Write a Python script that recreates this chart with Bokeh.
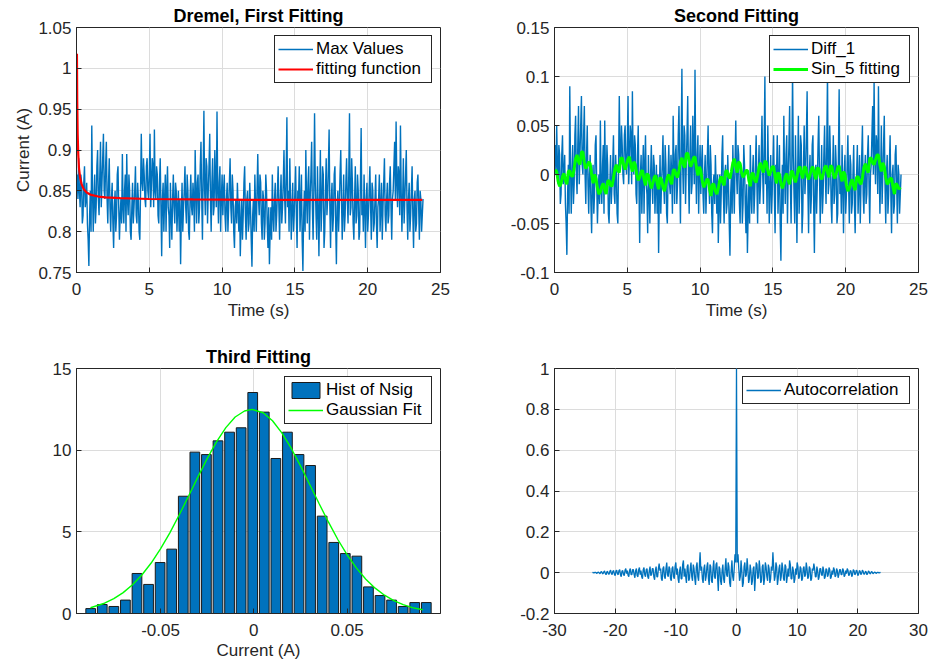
import numpy as np
from bokeh.plotting import figure
from bokeh.layouts import gridplot
from bokeh.models import FixedTicker, Range1d
from bokeh.embed import file_html
from bokeh.resources import INLINE

FONT = "Liberation Sans"
AX = "#262626"
BLUE = "#0072BD"
GRID = "#DCDCDC"

# ---------------- data ----------------
# sampled every 0.05 s starting at 0.05 s
max_values = [
    0.87, 0.84, 0.89, 0.85, 0.83, 0.87, 0.86, 0.81, 0.82, 0.86, 0.88, 0.83, 0.84, 0.86, 0.81, 0.79, 0.758, 0.82, 0.85, 0.80,
    0.93, 0.85, 0.80, 0.84, 0.87, 0.81, 0.83, 0.88, 0.90, 0.84, 0.82, 0.87, 0.91, 0.83, 0.86, 0.89, 0.92, 0.85, 0.84, 0.88,
    0.91, 0.84, 0.81, 0.86, 0.89, 0.83, 0.80, 0.84, 0.86, 0.81, 0.78, 0.83, 0.85, 0.80, 0.82, 0.87, 0.88, 0.83, 0.79, 0.82,
    0.84, 0.81, 0.895, 0.83, 0.81, 0.85, 0.87, 0.80, 0.895, 0.84, 0.82, 0.87, 0.85, 0.80, 0.79, 0.83, 0.86, 0.81, 0.83, 0.85,
    0.88, 0.82, 0.81, 0.86, 0.84, 0.80, 0.79, 0.85, 0.92, 0.86, 0.85, 0.89, 0.87, 0.84, 0.83, 0.88, 0.89, 0.85, 0.84, 0.87,
    0.92, 0.83, 0.86, 0.89, 0.88, 0.83, 0.925, 0.85, 0.84, 0.88, 0.87, 0.82, 0.81, 0.86, 0.89, 0.83, 0.77, 0.84, 0.86, 0.80,
    0.84, 0.87, 0.80, 0.85, 0.88, 0.83, 0.82, 0.78, 0.86, 0.82, 0.79, 0.84, 0.87, 0.83, 0.81, 0.86, 0.85, 0.80, 0.83, 0.85,
    0.80, 0.84, 0.76, 0.82, 0.86, 0.80, 0.83, 0.85, 0.88, 0.83, 0.81, 0.87, 0.85, 0.80, 0.79, 0.84, 0.87, 0.83, 0.82, 0.86,
    0.84, 0.80, 0.90, 0.85, 0.81, 0.86, 0.87, 0.81, 0.83, 0.88, 0.91, 0.84, 0.79, 0.87, 0.948, 0.85, 0.82, 0.89, 0.88, 0.81,
    0.85, 0.88, 0.92, 0.84, 0.80, 0.86, 0.89, 0.82, 0.83, 0.90, 0.86, 0.83, 0.947, 0.85, 0.81, 0.86, 0.88, 0.80, 0.84, 0.87,
    0.82, 0.85, 0.87, 0.82, 0.80, 0.84, 0.86, 0.80, 0.83, 0.86, 0.89, 0.83, 0.81, 0.87, 0.85, 0.80, 0.78, 0.83, 0.84, 0.81,
    0.86, 0.83, 0.80, 0.84, 0.77, 0.81, 0.84, 0.79, 0.82, 0.86, 0.88, 0.82, 0.79, 0.84, 0.85, 0.80, 0.81, 0.86, 0.83, 0.79,
    0.757, 0.82, 0.84, 0.80, 0.87, 0.83, 0.80, 0.85, 0.895, 0.84, 0.82, 0.87, 0.86, 0.81, 0.79, 0.85, 0.84, 0.79, 0.81, 0.87,
    0.85, 0.81, 0.78, 0.83, 0.76, 0.80, 0.83, 0.79, 0.87, 0.82, 0.80, 0.84, 0.86, 0.80, 0.82, 0.85, 0.88, 0.83, 0.79, 0.84,
    0.87, 0.81, 0.83, 0.86, 0.90, 0.84, 0.81, 0.87, 0.94, 0.83, 0.85, 0.80, 0.89, 0.84, 0.79, 0.83, 0.86, 0.80, 0.82, 0.85,
    0.88, 0.82, 0.78, 0.85, 0.84, 0.88, 0.80, 0.83, 0.87, 0.79, 0.752, 0.82, 0.85, 0.80, 0.90, 0.84, 0.81, 0.86, 0.88, 0.79,
    0.84, 0.87, 0.91, 0.83, 0.79, 0.85, 0.945, 0.86, 0.82, 0.79, 0.88, 0.83, 0.77, 0.84, 0.90, 0.80, 0.83, 0.88, 0.87, 0.78,
    0.80, 0.85, 0.89, 0.82, 0.84, 0.88, 0.925, 0.83, 0.78, 0.84, 0.86, 0.80, 0.82, 0.87, 0.88, 0.81, 0.76, 0.83, 0.85, 0.80,
    0.83, 0.87, 0.90, 0.84, 0.79, 0.83, 0.87, 0.80, 0.82, 0.86, 0.89, 0.84, 0.81, 0.87, 0.945, 0.82, 0.83, 0.89, 0.86, 0.81,
    0.79, 0.84, 0.88, 0.81, 0.82, 0.87, 0.85, 0.79, 0.80, 0.86, 0.927, 0.82, 0.84, 0.80, 0.87, 0.83, 0.78, 0.84, 0.86, 0.80,
    0.82, 0.85, 0.88, 0.83, 0.79, 0.86, 0.85, 0.80, 0.81, 0.84, 0.87, 0.81, 0.78, 0.83, 0.84, 0.87, 0.80, 0.83, 0.86, 0.79,
    0.83, 0.86, 0.89, 0.82, 0.80, 0.84, 0.86, 0.81, 0.82, 0.86, 0.88, 0.83, 0.79, 0.84, 0.85, 0.88, 0.91, 0.84, 0.935, 0.86,
    0.83, 0.88, 0.87, 0.82, 0.93, 0.85, 0.80, 0.84, 0.89, 0.81, 0.84, 0.87, 0.90, 0.83, 0.79, 0.84, 0.86, 0.80, 0.82, 0.85,
    0.88, 0.82, 0.78, 0.84, 0.85, 0.80, 0.81, 0.86, 0.87, 0.83, 0.79, 0.85, 0.84, 0.80, 0.82, 0.84,
]

fit_time = [0.03, 0.05, 0.08, 0.12, 0.17, 0.25, 0.35, 0.5, 0.7, 1.0, 1.5,
            2.0, 3.0, 5.0, 8.0, 12.0, 16.0, 20.0, 23.75]
fit_values = [1.018, 0.96, 0.92, 0.895, 0.878, 0.866, 0.858, 0.852, 0.848,
              0.845, 0.843, 0.842, 0.841, 0.840, 0.8395, 0.839, 0.839,
              0.839, 0.839]

# sampled every 0.05 s starting at 0.05 s
diff_1 = [
    0.03, 0.0, 0.05, 0.01, -0.01, 0.03, 0.02, -0.03, -0.02, 0.02, 0.04, -0.01, 0.0, 0.02, -0.03, -0.05, -0.082, -0.02, 0.01, -0.04,
    0.09, 0.01, -0.04, 0.0, 0.03, -0.03, -0.01, 0.04, 0.06, 0.0, -0.02, 0.03, 0.07, -0.01, 0.02, 0.05, 0.08, 0.01, 0.0, 0.04,
    0.07, 0.0, -0.03, 0.02, 0.05, -0.01, -0.04, 0.0, 0.02, -0.03, -0.06, -0.01, 0.01, -0.04, -0.02, 0.03, 0.04, -0.01, -0.05, -0.02,
    0.0, -0.03, 0.055, -0.01, -0.03, 0.01, 0.03, -0.04, 0.055, 0.0, -0.02, 0.03, 0.01, -0.04, -0.05, -0.01, 0.02, -0.03, -0.01, 0.01,
    0.04, -0.02, -0.03, 0.02, 0.0, -0.04, -0.05, 0.01, 0.08, 0.02, 0.01, 0.05, 0.03, 0.0, -0.01, 0.04, 0.05, 0.01, 0.0, 0.03,
    0.08, -0.01, 0.02, 0.05, 0.04, -0.01, 0.085, 0.01, 0.0, 0.04, 0.03, -0.02, -0.03, 0.02, 0.05, -0.01, -0.07, 0.0, 0.02, -0.04,
    0.0, 0.03, -0.04, 0.01, 0.04, -0.01, -0.02, -0.06, 0.02, -0.02, -0.05, 0.0, 0.03, -0.01, -0.03, 0.02, 0.01, -0.04, -0.01, 0.01,
    -0.04, 0.0, -0.08, -0.02, 0.02, -0.04, -0.01, 0.01, 0.04, -0.01, -0.03, 0.03, 0.01, -0.04, -0.05, 0.0, 0.03, -0.01, -0.02, 0.02,
    0.0, -0.04, 0.06, 0.01, -0.03, 0.02, 0.03, -0.03, -0.01, 0.04, 0.07, 0.0, -0.05, 0.03, 0.108, 0.01, -0.02, 0.05, 0.04, -0.03,
    0.01, 0.04, 0.08, 0.0, -0.04, 0.02, 0.05, -0.02, -0.01, 0.06, 0.02, -0.01, 0.107, 0.01, -0.03, 0.02, 0.04, -0.04, 0.0, 0.03,
    -0.02, 0.01, 0.03, -0.02, -0.04, 0.0, 0.02, -0.04, -0.01, 0.02, 0.05, -0.01, -0.03, 0.03, 0.01, -0.04, -0.06, -0.01, 0.0, -0.03,
    0.02, -0.01, -0.04, 0.0, -0.07, -0.03, 0.0, -0.05, -0.02, 0.02, 0.04, -0.02, -0.05, 0.0, 0.01, -0.04, -0.03, 0.02, -0.01, -0.05,
    -0.083, -0.02, 0.0, -0.04, 0.03, -0.01, -0.04, 0.01, 0.055, 0.0, -0.02, 0.03, 0.02, -0.03, -0.05, 0.01, 0.0, -0.05, -0.03, 0.03,
    0.01, -0.03, -0.06, -0.01, -0.08, -0.04, -0.01, -0.05, 0.03, -0.02, -0.04, 0.0, 0.02, -0.04, -0.02, 0.01, 0.04, -0.01, -0.05, 0.0,
    0.03, -0.03, -0.01, 0.02, 0.06, 0.0, -0.03, 0.03, 0.1, -0.01, 0.01, -0.04, 0.05, 0.0, -0.05, -0.01, 0.02, -0.04, -0.02, 0.01,
    0.04, -0.02, -0.06, 0.01, 0.0, 0.04, -0.04, -0.01, 0.03, -0.05, -0.088, -0.02, 0.01, -0.04, 0.06, 0.0, -0.03, 0.02, 0.04, -0.05,
    0.0, 0.03, 0.07, -0.01, -0.05, 0.01, 0.105, 0.02, -0.02, -0.05, 0.04, -0.01, -0.07, 0.0, 0.06, -0.04, -0.01, 0.04, 0.03, -0.06,
    -0.04, 0.01, 0.05, -0.02, 0.0, 0.04, 0.085, -0.01, -0.06, 0.0, 0.02, -0.04, -0.02, 0.03, 0.04, -0.03, -0.08, -0.01, 0.01, -0.04,
    -0.01, 0.03, 0.06, 0.0, -0.05, -0.01, 0.03, -0.04, -0.02, 0.02, 0.05, 0.0, -0.03, 0.03, 0.105, -0.02, -0.01, 0.05, 0.02, -0.03,
    -0.05, 0.0, 0.04, -0.03, -0.02, 0.03, 0.01, -0.05, -0.04, 0.02, 0.087, -0.02, 0.0, -0.04, 0.03, -0.01, -0.06, 0.0, 0.02, -0.04,
    -0.02, 0.01, 0.04, -0.01, -0.05, 0.02, 0.01, -0.04, -0.03, 0.0, 0.03, -0.03, -0.06, -0.01, 0.0, 0.03, -0.04, -0.01, 0.02, -0.05,
    -0.01, 0.02, 0.05, -0.02, -0.04, 0.0, 0.02, -0.03, -0.02, 0.02, 0.04, -0.01, -0.05, 0.0, 0.01, 0.04, 0.07, 0.0, 0.095, 0.02,
    -0.01, 0.04, 0.03, -0.02, 0.09, 0.01, -0.04, 0.0, 0.05, -0.03, 0.0, 0.03, 0.06, -0.01, -0.05, 0.0, 0.02, -0.04, -0.02, 0.01,
    0.04, -0.02, -0.06, 0.0, 0.01, -0.04, -0.03, 0.02, 0.03, -0.01, -0.05, 0.01, 0.0, -0.04, -0.02, 0.0,
]

# sampled every 0.1 s starting at 0.05 s
sin5_fit = [
    0.005, 0.003, -0.007, -0.012, -0.009, -0.002, 0.001, -0.006, -0.010, 0.003,
    0.004, -0.001, -0.002, 0.006, 0.016, 0.020, 0.013, 0.010, 0.023, 0.023,
    0.012, 0.006, 0.009, 0.013, 0.011, 0.000, -0.009, 0.000, -0.004, -0.014,
    -0.020, -0.018, -0.012, -0.009, -0.016, -0.020, -0.007, -0.006, -0.011, -0.012,
    -0.004, 0.006, 0.010, 0.004, 0.002, 0.016, 0.017, 0.010, 0.005, 0.010,
    0.016, 0.018, 0.009, 0.003, 0.013, 0.010, 0.000, -0.006, -0.003, 0.003,
    0.004, -0.005, -0.011, 0.001, -0.001, -0.009, -0.014, -0.009, -0.003, -0.001,
    -0.009, -0.015, -0.003, -0.005, -0.013, -0.017, -0.010, -0.003, 0.000, -0.006,
    -0.010, 0.004, 0.005, -0.001, -0.003, 0.004, 0.013, 0.017, 0.010, 0.007,
    0.021, 0.022, 0.014, 0.008, 0.012, 0.017, 0.018, 0.007, -0.001, 0.008,
    0.004, -0.007, -0.013, -0.010, -0.005, -0.005, -0.015, -0.022, -0.010, -0.010,
    -0.017, -0.020, -0.014, -0.006, -0.002, -0.008, -0.011, 0.003, 0.004, -0.002,
    -0.004, 0.003, 0.012, 0.016, 0.008, 0.002, 0.013, 0.011, 0.002, -0.003,
    0.000, 0.004, 0.004, -0.006, -0.012, 0.001, 0.001, -0.006, -0.008, -0.001,
    0.008, 0.012, 0.006, 0.002, 0.014, 0.012, 0.004, -0.001, 0.003, 0.008,
    0.008, -0.002, -0.009, 0.002, 0.000, -0.009, -0.014, -0.010, -0.002, 0.001,
    -0.006, -0.010, 0.003, 0.003, -0.004, -0.008, -0.002, 0.006, 0.008, 0.001,
    -0.004, 0.008, 0.007, -0.001, -0.005, 0.000, 0.006, 0.008, 0.000, -0.005,
    0.007, 0.006, -0.002, -0.005, 0.000, 0.007, 0.009, 0.002, -0.003, 0.009,
    0.008, 0.000, -0.004, 0.001, 0.007, 0.009, 0.000, -0.007, 0.003, 0.000,
    -0.011, -0.017, -0.014, -0.008, -0.005, -0.012, -0.016, -0.003, -0.002, -0.008,
    -0.010, -0.003, 0.007, 0.011, 0.005, 0.002, 0.016, 0.017, 0.012, 0.010,
    0.015, 0.020, 0.020, 0.010, 0.003, 0.012, 0.008, -0.003, -0.010, -0.008,
    -0.004, -0.004, -0.013, -0.020, -0.009, -0.011, -0.015, -0.013,
]

hist_centers = [-0.0874, -0.0812, -0.0750, -0.0688, -0.0626, -0.0564, -0.0502,
                -0.0440, -0.0378, -0.0316, -0.0254, -0.0192, -0.0130, -0.0068,
                -0.0006, 0.0056, 0.0118, 0.0180, 0.0242, 0.0304, 0.0366,
                0.0428, 0.0490, 0.0552, 0.0614, 0.0676, 0.0738, 0.0800,
                0.0862, 0.0924]
hist_heights = [0.30, 0.55, 0.43, 0.82, 2.45, 1.78, 3.12, 3.94, 7.18, 9.88,
                9.73, 10.57, 11.10, 11.37, 13.53, 12.33, 9.49, 11.10, 9.73,
                9.06, 5.96, 4.35, 3.67, 3.51, 1.63, 1.10, 0.82, 0.43, 0.67,
                0.67]

gauss_x = [-0.0875, -0.08, -0.075, -0.07, -0.065, -0.06, -0.055, -0.05,
           -0.045, -0.04, -0.035, -0.03, -0.025, -0.02, -0.015, -0.01,
           -0.005, -0.001, 0.005, 0.01, 0.015, 0.02, 0.025, 0.03, 0.035,
           0.04, 0.045, 0.05, 0.055, 0.06, 0.065, 0.07, 0.075, 0.08, 0.085,
           0.0905]
gauss_y = [0.35, 0.63, 0.91, 1.28, 1.76, 2.36, 3.09, 3.96, 4.94, 6.03, 7.18,
           8.35, 9.48, 10.51, 11.38, 12.03, 12.40, 12.50, 12.29, 11.80, 11.06,
           10.12, 9.04, 7.88, 6.72, 5.59, 4.53, 3.59, 2.78, 2.10, 1.55, 1.12,
           0.79, 0.54, 0.36, 0.23]

# autocorrelation, lag step 0.125 s
acf_negative_lags = [
    0.0, 0.001, -0.002, 0.001, 0.002, -0.001, -0.004, 0.002, 0.003, -0.002,
    -0.005, 0.003, 0.005, -0.003, -0.006, 0.004, 0.008, -0.005, -0.01, 0.004,
    0.006, -0.006, -0.008, 0.006, 0.012, -0.005, -0.01, 0.007, 0.01, -0.008,
    -0.015, 0.008, 0.012, -0.006, -0.01, 0.01, 0.015, -0.01, -0.02, 0.008,
    0.01, -0.01, -0.015, 0.012, 0.02, -0.005, 0.01, -0.012, -0.02, 0.012,
    0.02, -0.01, -0.01, 0.015, 0.015, -0.01, -0.025, 0.01, 0.02, -0.015,
    -0.02, 0.015, 0.025, -0.01, 0.01, -0.02, -0.03, 0.015, 0.025, -0.01,
    -0.02, 0.015, 0.02, -0.02, -0.03, 0.01, 0.03, -0.015, -0.01, 0.02,
    0.02, -0.02, -0.035, 0.01, 0.03, -0.02, -0.02, 0.02, 0.045, 0.01,
    0.02, -0.03, -0.04, 0.02, 0.03, -0.02, -0.03, 0.02, 0.05, -0.01,
    -0.02, 0.03, 0.02, -0.03, -0.04, 0.02, 0.03, -0.02, -0.03, 0.03,
    0.05, -0.01, 0.02, -0.03, -0.05, 0.01, 0.03, -0.03, -0.03, 0.04,
    0.06, -0.02, 0.02, -0.02, -0.05, 0.03, 0.04, -0.04, -0.03, 0.02,
    0.05, -0.02, -0.04, 0.04, 0.02, -0.03, -0.06, 0.03, 0.05, -0.02,
    -0.04, 0.03, 0.10, 0.01, 0.03, -0.03, -0.05, 0.02, 0.04, -0.04,
    -0.02, 0.03, 0.05, -0.03, -0.06, 0.04, 0.03, -0.04, -0.05, 0.02,
    0.06, -0.02, -0.03, 0.04, 0.05, -0.02, -0.09, 0.03, 0.02, -0.04,
    -0.06, 0.01, 0.04, -0.03, -0.05, 0.02, 0.07, -0.01, -0.02, 0.05,
    0.03, -0.05, -0.07, 0.01, 0.06, -0.02, -0.04, 0.02, 0.09, 0.05,
]
acf_zero_lag = [1.0]
acf_positive_lags = [
    0.05, 0.09, 0.02, -0.04, -0.02, 0.06, 0.01, -0.07, -0.05, 0.03,
    0.05, -0.02, -0.01, 0.07, 0.02, -0.05, -0.03, 0.04, 0.01, -0.06,
    -0.04, 0.02, 0.03, -0.09, -0.02, 0.05, 0.04, -0.03, -0.02, 0.06,
    0.02, -0.05, -0.04, 0.03, 0.04, -0.06, -0.03, 0.05, 0.03, -0.02,
    -0.04, 0.04, 0.02, -0.05, -0.03, 0.03, 0.01, 0.10, 0.03, -0.04,
    -0.02, 0.05, 0.03, -0.06, -0.03, 0.02, 0.04, -0.04, -0.02, 0.05,
    0.02, -0.03, -0.04, 0.04, 0.03, -0.05, -0.02, 0.02, -0.02, 0.06,
    0.04, -0.03, -0.03, 0.03, 0.01, -0.05, -0.03, 0.02, -0.01, 0.05,
    0.03, -0.03, -0.02, 0.03, 0.02, -0.04, -0.03, 0.02, 0.03, -0.02,
    -0.01, 0.05, 0.02, -0.03, -0.02, 0.03, 0.02, -0.04, -0.03, 0.02,
    0.01, 0.045, 0.02, -0.02, -0.02, 0.03, 0.01, -0.035, -0.02, 0.02,
    0.02, -0.01, -0.015, 0.03, 0.01, -0.03, -0.02, 0.02, 0.015, -0.02,
    -0.01, 0.025, 0.015, -0.03, -0.02, 0.01, -0.01, 0.025, 0.015, -0.02,
    -0.015, 0.02, 0.01, -0.025, -0.01, 0.015, 0.015, -0.01, -0.01, 0.02,
    0.012, -0.02, -0.012, 0.01, -0.005, 0.02, 0.012, -0.015, -0.01, 0.01,
    0.008, -0.02, -0.01, 0.015, 0.01, -0.01, -0.006, 0.012, 0.008, -0.015,
    -0.008, 0.01, 0.007, -0.01, -0.005, 0.012, 0.006, -0.008, -0.006, 0.006,
    0.004, -0.01, -0.005, 0.008, 0.004, -0.006, -0.003, 0.005, 0.003, -0.005,
    -0.002, 0.003, 0.002, -0.004, -0.001, 0.002, 0.001, -0.002, 0.001, 0.0,
]

# axis ticks and labels
time_ticks = [0, 5, 10, 15, 20, 25]
time_labels = ["0", "5", "10", "15", "20", "25"]
y1_ticks = [0.75, 0.8, 0.85, 0.9, 0.95, 1.0, 1.05]
y1_labels = ["0.75", "0.8", "0.85", "0.9", "0.95", "1", "1.05"]
y2_ticks = [-0.1, -0.05, 0.0, 0.05, 0.1, 0.15]
y2_labels = ["-0.1", "-0.05", "0", "0.05", "0.1", "0.15"]
x3_ticks = [-0.05, 0.0, 0.05]
x3_labels = ["-0.05", "0", "0.05"]
y3_ticks = [0, 5, 10, 15]
y3_labels = ["0", "5", "10", "15"]
x4_ticks = [-30, -20, -10, 0, 10, 20, 30]
x4_labels = ["-30", "-20", "-10", "0", "10", "20", "30"]
y4_ticks = [-0.2, 0.0, 0.2, 0.4, 0.6, 0.8, 1.0]
y4_labels = ["-0.2", "0", "0.2", "0.4", "0.6", "0.8", "1"]

# sample positions
t = 0.05 + 0.05 * np.arange(len(max_values))
t_diff = 0.05 + 0.05 * np.arange(len(diff_1))
t_fit5 = 0.05 + 0.1 * np.arange(len(sin5_fit))
acf = acf_negative_lags + acf_zero_lag + acf_positive_lags
lags = 0.125 * np.arange(-len(acf_negative_lags), len(acf_positive_lags) + 1)


# ---------------- styling helpers ----------------
def style_axis(ax, ticks, labels, standoff=5):
    ax.ticker = FixedTicker(ticks=ticks)
    ax.major_label_overrides = {float(k): v for k, v in zip(ticks, labels)}
    ax.major_tick_in = 5
    ax.major_tick_out = 0
    ax.minor_tick_in = 0
    ax.minor_tick_out = 0
    ax.axis_line_color = AX
    ax.axis_line_width = 1
    ax.major_tick_line_color = AX
    ax.major_label_text_font = FONT
    ax.major_label_text_color = AX
    ax.major_label_text_font_size = "17px"
    ax.major_label_standoff = standoff
    ax.axis_label_text_font = FONT
    ax.axis_label_text_font_size = "17px"
    ax.axis_label_text_font_style = "normal"
    ax.axis_label_text_color = AX


def make_fig(width, height, left, right, top, bottom, xr, yr, xt, xl, yt, yl,
             title=None, xlabel=None, ylabel=None, xstand=10, xlstand=3):
    kw = dict(width=width, height=height, x_range=Range1d(*xr),
              y_range=Range1d(*yr), output_backend="svg",
              toolbar_location=None, min_border_left=left,
              min_border_right=right, min_border_top=top,
              min_border_bottom=bottom, background_fill_color="white",
              border_fill_color="white")
    if title:
        kw["title"] = title
    p = figure(**kw)
    if title:
        p.title.align = "center"
        p.title.text_font = FONT
        p.title.text_font_size = "18px"
        p.title.text_font_style = "bold"
        p.title.text_color = "#000000"
        p.title.standoff = 4
    style_axis(p.xaxis[0], xt, xl, standoff=xstand)
    style_axis(p.yaxis[0], yt, yl, standoff=5)
    if xlabel:
        p.xaxis[0].axis_label = xlabel
        p.xaxis[0].axis_label_standoff = xlstand
    if ylabel:
        p.yaxis[0].axis_label = ylabel
        p.yaxis[0].axis_label_standoff = 2
    p.xgrid.grid_line_color = GRID
    p.ygrid.grid_line_color = GRID
    p.xgrid.grid_line_width = 1
    p.ygrid.grid_line_width = 1
    p.outline_line_color = AX
    p.outline_line_width = 1
    p.outline_line_alpha = 1
    return p


def style_legend(p, label_width):
    lg = p.legend[0]
    lg.location = "top_right"
    lg.margin = 8
    lg.padding = 3
    lg.spacing = 0
    lg.glyph_width = 35
    lg.glyph_height = 20
    lg.label_height = 20
    lg.label_width = label_width
    lg.label_standoff = 3
    lg.label_text_font = FONT
    lg.label_text_font_size = "17px"
    lg.label_text_color = "#000000"
    lg.border_line_color = AX
    lg.border_line_width = 1
    lg.border_line_alpha = 1
    lg.background_fill_color = "white"
    lg.background_fill_alpha = 1


# ---------------- figures ----------------
p1 = make_fig(470, 330, 76, 30, 27, 58, (0, 25), (0.75, 1.05), time_ticks,
              time_labels, y1_ticks, y1_labels, title="Dremel, First Fitting",
              xlabel="Time (s)", ylabel="Current (A)")
p1.line(t, max_values, line_color=BLUE, line_width=1.4, legend_label="Max Values")
p1.line(fit_time, fit_values, line_color="#FF0000", line_width=2.2,
        legend_label="fitting function")
style_legend(p1, 112)

p2 = make_fig(458, 330, 84, 10, 27, 58, (0, 25), (-0.1, 0.15), time_ticks,
              time_labels, y2_ticks, y2_labels, title="Second Fitting",
              xlabel="Time (s)")
p2.line(t_diff, diff_1, line_color=BLUE, line_width=1.4, legend_label="Diff_1")
p2.line(t_fit5, sin5_fit, line_color="#00FF00", line_width=3,
        legend_label="Sin_5 fitting")
style_legend(p2, 95)

p3 = make_fig(470, 335, 76, 30, 38, 52, (-0.095, 0.1), (0, 15), x3_ticks,
              x3_labels, y3_ticks, y3_labels, title="Third Fitting",
              xlabel="Current (A)", xstand=10, xlstand=2)
p3.vbar(x=hist_centers, top=hist_heights, bottom=0, width=0.0052,
        fill_color=BLUE, line_color="#1A1A1A", line_width=1,
        legend_label="Hist of Nsig")
p3.line(gauss_x, gauss_y, line_color="#00FF00", line_width=1.4,
        legend_label="Gaussian Fit")
style_legend(p3, 102)

p4 = make_fig(458, 335, 84, 10, 38, 52, (-30, 30), (-0.2, 1.0), x4_ticks,
              x4_labels, y4_ticks, y4_labels, xstand=10, xlstand=2)
p4.line(lags, acf, line_color=BLUE, line_width=1.3,
        legend_label="Autocorrelation")
style_legend(p4, 122)

grid = gridplot([[p1, p2], [p3, p4]], toolbar_location=None)

open("out.html", "w").write(file_html(grid, INLINE))
